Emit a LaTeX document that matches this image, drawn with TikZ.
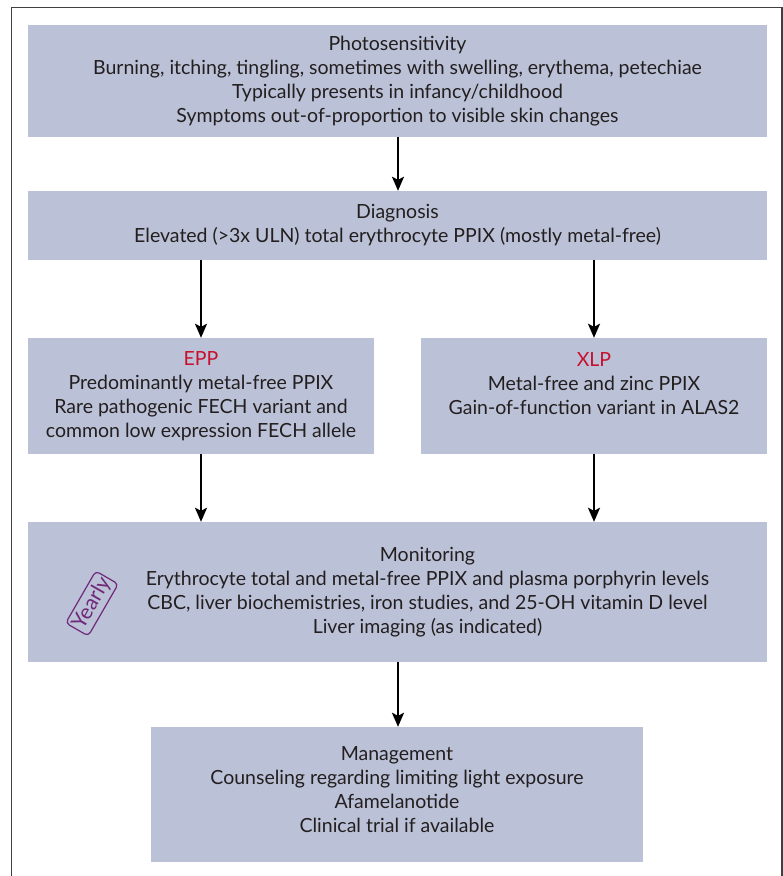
\documentclass[tikz,border=0pt]{standalone}
\usepackage{fontspec}
\setmainfont{Lato}
\usepackage{xcolor}
\usepackage{tikz}
\usetikzlibrary{arrows.meta, positioning}

\definecolor{boxfill}{RGB}{187,193,214}
\definecolor{boxtext}{RGB}{35,31,32}
\definecolor{typered}{RGB}{200,16,46}
\definecolor{tagpurple}{RGB}{112,40,122}

\begin{document}
\begin{tikzpicture}[x=1pt, y=-1pt,
    flowbox/.style={fill=boxfill, draw=none, inner sep=0pt, align=center, text=boxtext,
        font=\fontsize{19.5}{24}\selectfont},
    widebox/.style={flowbox, minimum width=739pt},
    halfbox/.style={flowbox, minimum width=346pt, minimum height=116pt},
    tag/.style={draw=tagpurple, line width=1.2pt, rounded corners=4pt, text=tagpurple, rotate=60,
        minimum width=60pt, minimum height=26pt, inner sep=0pt, font=\fontsize{21}{21}\selectfont},
    arrow/.style={draw, line width=2pt, -{Stealth[length=14pt, width=12pt, inset=3pt]}}
]
    \useasboundingbox (0,0) rectangle (783,876);

    % Frame
    \draw[line width=1.5pt, black!75] (11.5,876) -- (11.5,7.5) -- (782,7.5) -- (782,876);

    % Boxes
    \node[widebox, minimum height=112pt] (photo) at (397.5,81)
        {Photosensitivity\\Burning, itching, tingling, sometimes with swelling, erythema, petechiae\\Typically presents in infancy/childhood\\Symptoms out-of-proportion to visible skin changes};
    \node[widebox, minimum height=69pt] (diag) at (397.5,225.5)
        {Diagnosis\\Elevated (>3x ULN) total erythrocyte PPIX (mostly metal-free)};
    \node[halfbox] (epp) at (201,396)
        {\textcolor{typered}{EPP}\\Predominantly metal-free PPIX\\Rare pathogenic FECH variant and\\common low expression FECH allele};
    \node[halfbox] (xlp) at (594,396)
        {\textcolor{typered}{XLP}\\Metal-free and zinc PPIX\\Gain-of-function variant in ALAS2\\\phantom{X}};
    \node[widebox, minimum height=140pt] (mon) at (397.5,592) {};
    \node[flowbox, fill=none] (montext) at ([xshift=30pt]mon.center)
        {Monitoring\\Erythrocyte total and metal-free PPIX and plasma porphyrin levels\\CBC, liver biochemistries, iron studies, and 25-OH vitamin D level\\Liver imaging (as indicated)};
    \node[tag] (yearly) at (92,603.5) {Yearly};
    \node[flowbox, minimum width=492pt, minimum height=135pt] (mgmt) at (397,794.5)
        {Management\\Counseling regarding limiting light exposure\\Afamelanotide\\Clinical trial if available\\[-14pt]\mbox{}};

    % Connections
    \draw[arrow] (photo.south -| 398,0) -- (diag.north -| 398,0);
    \draw[arrow] (diag.south -| epp) -- (epp.north);
    \draw[arrow] (diag.south -| xlp) -- (xlp.north);
    \draw[arrow] (epp.south) -- (mon.north -| epp);
    \draw[arrow] (xlp.south) -- (mon.north -| xlp);
    \draw[arrow] (mon.south -| 398,0) -- (mgmt.north -| 398,0);
\end{tikzpicture}
\end{document}
